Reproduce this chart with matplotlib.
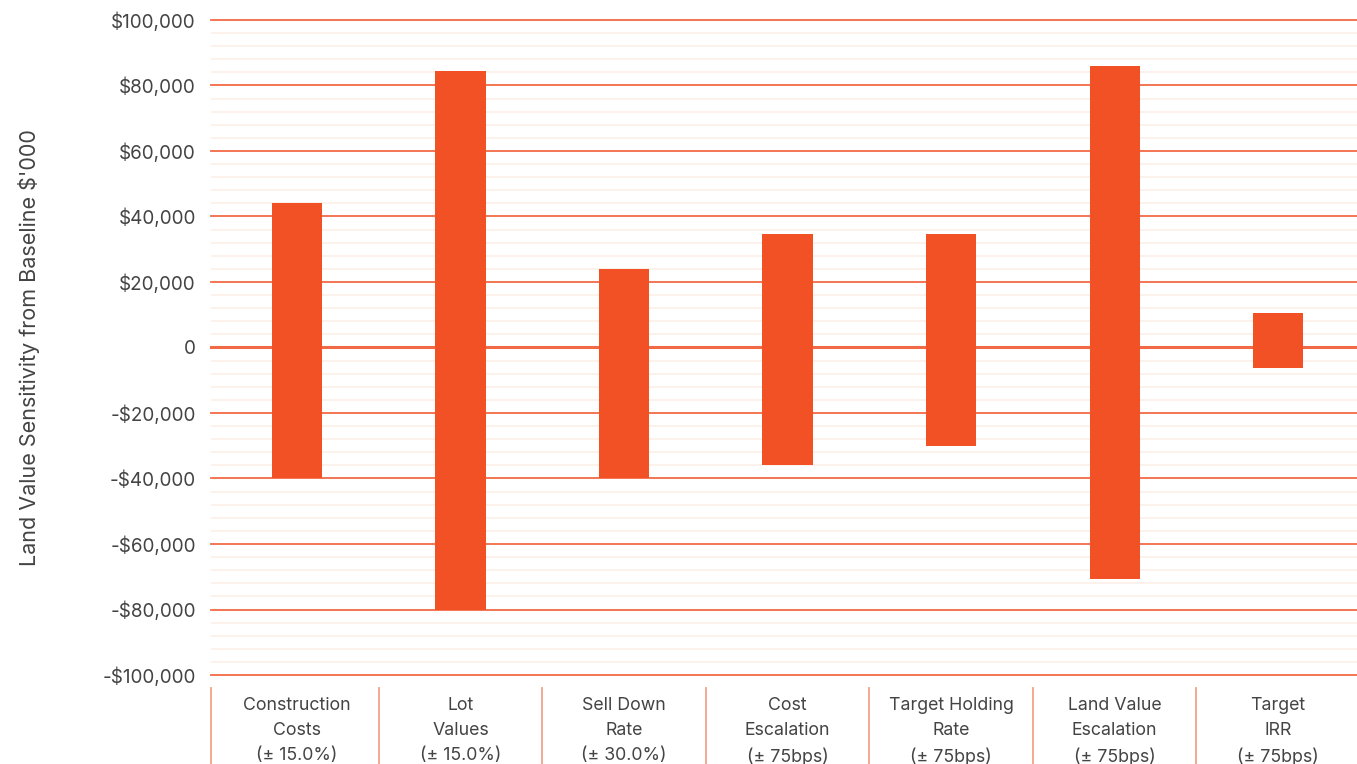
import matplotlib
matplotlib.use("Agg")
import matplotlib.pyplot as plt
from matplotlib.lines import Line2D

categories = ["Construction\nCosts\n(± 15.0%)", "Lot\nValues\n(± 15.0%)", "Sell Down\nRate\n(± 30.0%)",
              "Cost\nEscalation\n(± 75bps)", "Target Holding\nRate\n(± 75bps)",
              "Land Value\nEscalation\n(± 75bps)", "Target\nIRR\n(± 75bps)"]
upside = [44000, 84500, 24000, 34700, 34700, 86000, 10500]
downside = [-40000, -80000, -40000, -36000, -30000, -70700, -6300]
yticks = [100000, 80000, 60000, 40000, 20000, 0, -20000, -40000, -60000, -80000, -100000]
ytick_labels = ["$100,000", "$80,000", "$60,000", "$40,000", "$20,000", "0",
                "-$20,000", "-$40,000", "-$60,000", "-$80,000", "-$100,000"]

plt.rcParams['font.family'] = ['Inter', 'DejaVu Sans']

W, H = 1357, 764
fig = plt.figure(figsize=(W / 100, H / 100), dpi=100)
ax = fig.add_axes([211 / W, 1 - 675 / H, (W - 211) / W, (675 - 20) / H])

bar_color = "#f15125"
major_c = "#f26a45"
minor_c = "#fdefe7"
sep_c = "#f4a286"
text_c = "#444444"

xl, xr = -0.526, 6.483
ax.set_xlim(xl, xr)
ax.set_ylim(-100000, 100000)

# minor gridlines
for v in range(-100000, 100001, 4000):
    if v % 20000 != 0:
        ax.axhline(v, color=minor_c, lw=1.2, zorder=1)
for v in yticks:
    ax.axhline(v, color=major_c, lw=2.2 if v == 0 else 1.3, zorder=2, clip_on=False)

x = list(range(len(categories)))
heights = [u - d for u, d in zip(upside, downside)]
ax.bar(x, heights, bottom=downside, width=0.306, color=bar_color, zorder=3)

ax.set_yticks(yticks)
ax.set_yticklabels(ytick_labels, fontsize=13.6, color=text_c)
ax.tick_params(axis='y', length=0, pad=11)
ax.set_xticks([])
for s in ax.spines.values():
    s.set_visible(False)

ax.set_ylabel("Land Value Sensitivity from Baseline $'000", fontsize=15.5, color=text_c)
ax.yaxis.set_label_coords(-0.149, 0.5)

# category labels
for i, c in enumerate(categories):
    ax.text(i, -0.033, c, transform=ax.get_xaxis_transform(), ha='center', va='top',
            fontsize=12.8, color=text_c, linespacing=1.62)

# separators
seps = [xl] + [k + 0.5 for k in range(6)]
for s in seps:
    ax.add_line(Line2D([s, s], [-0.02, -0.14], transform=ax.get_xaxis_transform(),
                       color=sep_c, lw=1.3, clip_on=False))

fig.savefig("out.png", dpi=100)
